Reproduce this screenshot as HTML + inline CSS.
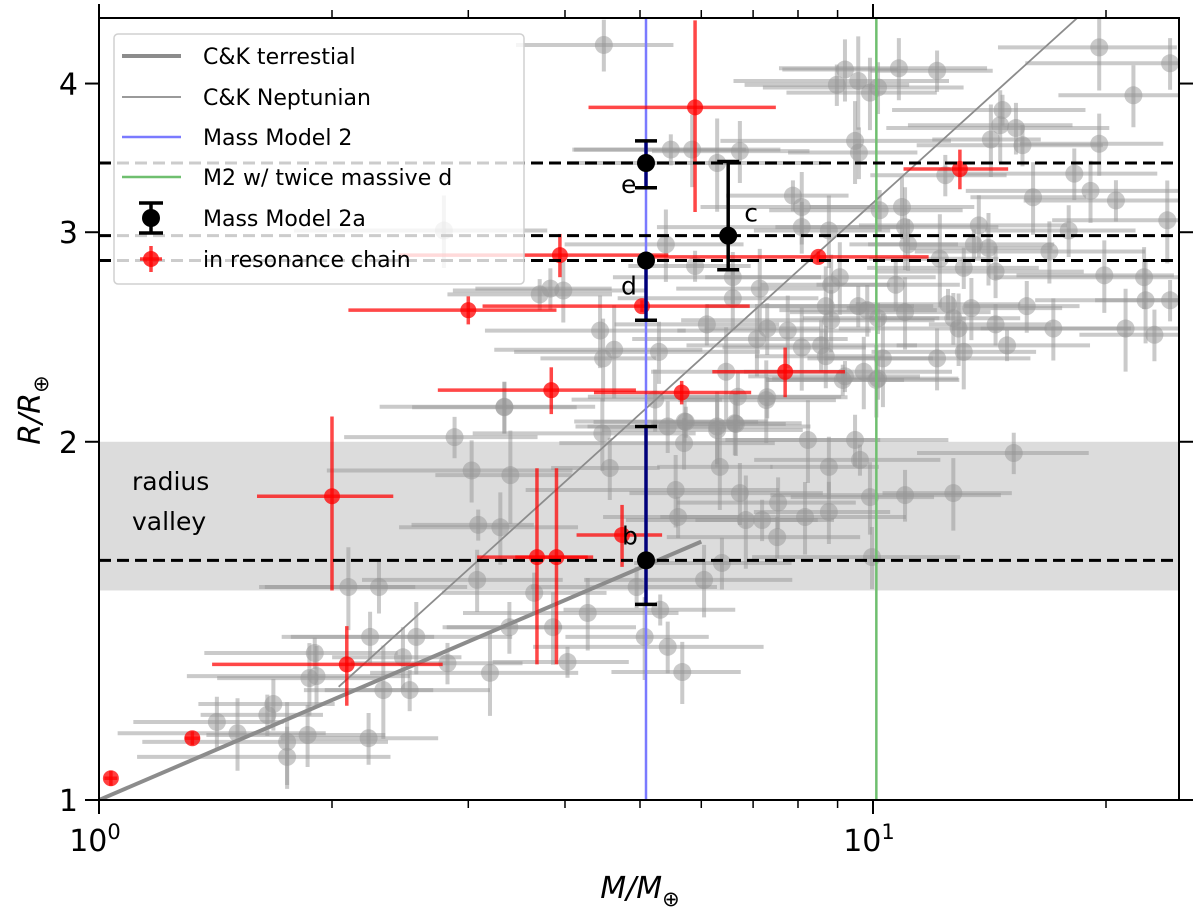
<!DOCTYPE html>
<html><head><meta charset="utf-8"><style>
html,body{margin:0;padding:0;background:#fff;}
svg{display:block;font-family:"DejaVu Sans","Liberation Sans",sans-serif;}
</style></head><body>
<svg id="chart" width="1200" height="914" viewBox="0 0 1200 914">
<defs><clipPath id="plotclip"><rect x="99" y="18" width="1080" height="782"/></clipPath></defs>
<g id="plot" clip-path="url(#plotclip)"></g>
<g id="axes"></g>
<g id="legend"></g>
</svg>
<script>
const grayMass=[1.42,1.51,1.65,1.86,1.75,1.68,1.90,1.87,1.91,2.33,2.52,2.24,2.57,2.47,2.82,3.20,2.23,1.75,4.03,3.86,3.39,4.28,3.65,3.08,2.10,2.30,3.09,3.30,3.03,3.40,2.88,3.34,4.47,4.57,4.95,5.07,5.43,5.67,5.31,6.05,6.38,5.56,5.60,6.73,6.34,5.70,5.73,6.29,6.63,6.85,7.19,7.54,8.17,8.77,7.52,8.24,9.48,8.77,9.62,9.91,11.0,12.7,15.2,9.97,7.28,6.69,9.14,10.1,9.20,9.57,8.98,10.15,9.91,10.8,12.1,19.6,24.2,21.7,14.7,14.6,15.3,14.2,15.6,19.6,9.48,9.59,5.48,5.84,6.73,6.29,12.4,18.2,16.1,19.1,20.6,24.0,17.9,13.7,7.88,8.09,8.09,8.77,10.2,10.9,11.0,11.1,13.5,14.1,16.9,12.2,13.1,14.4,19.9,22.4,24.2,22.5,15.8,13.4,12.5,11.0,12.7,12.9,14.4,17.1,21.2,23.1,14.9,13.1,12.1,10.3,10.15,10.7,9.06,8.83,9.57,8.69,9.83,8.83,10.15,7.76,7.30,7.08,6.10,6.59,7.14,6.59,5.89,5.40,5.29,6.46,5.71,5.43,6.29,6.65,7.30,8.09,8.57,8.69,9.20,9.73,4.49,2.79,3.83,3.98,4.48,3.34,3.71,4.44,5.23,4.63];
const grayRadius=[1.163,1.138,1.179,1.134,1.119,1.204,1.329,1.266,1.271,1.237,1.237,1.371,1.371,1.318,1.303,1.279,1.127,1.087,1.306,1.397,1.397,1.436,1.493,1.531,1.510,1.510,1.703,1.695,1.892,1.875,2.018,2.138,2.033,1.901,1.510,1.371,1.345,1.281,1.445,1.531,1.582,1.822,1.729,1.811,1.905,1.995,2.078,2.046,2.073,1.719,1.719,1.778,1.729,1.746,1.663,2.007,2.007,1.905,1.931,1.797,1.804,1.811,1.957,1.600,2.168,2.182,2.254,2.254,4.11,4.02,3.99,3.97,3.93,4.12,4.10,4.29,4.16,3.91,3.80,3.69,3.67,3.59,3.55,3.56,3.58,3.50,3.52,3.52,3.51,3.43,3.35,3.36,3.21,3.25,3.19,3.07,3.01,3.04,3.22,3.15,3.03,3.01,3.13,3.15,3.03,2.93,2.93,2.91,2.89,2.85,2.80,2.78,2.76,2.75,2.63,2.63,2.60,2.59,2.61,2.57,2.54,2.49,2.51,2.49,2.49,2.46,2.41,2.38,2.35,2.35,2.26,2.71,2.75,2.71,2.60,2.60,2.58,2.53,2.54,2.48,2.49,2.44,2.51,2.64,2.69,2.75,2.81,2.93,2.38,2.29,2.08,2.06,2.06,2.07,2.18,2.40,2.41,2.36,2.27,2.29,4.31,3.01,2.69,2.68,2.35,2.14,2.66,2.48,2.17,2.39];
const grayMassErrFrac=[0.22,0.30,0.18,0.26,0.35,0.20,0.28,0.24,0.32,0.16,0.27,0.21,0.33,0.19,0.25,0.30,0.23,0.36,0.20,0.28,0.17,0.31,0.24,0.29];
const grayRadiusErrFrac=[0.05,0.07,0.04,0.06,0.08,0.05,0.03,0.07,0.06,0.09,0.04,0.05,0.07,0.06,0.04,0.08,0.05,0.06,0.03,0.07];

const redMass=[1.036,1.32,2.09,2.0,3.68,3.9,4.74,3.84,5.66,7.7,3.0,3.94,5.03,8.5,5.89,12.95];
const redRadius=[1.043,1.127,1.30,1.80,1.60,1.60,1.67,2.21,2.20,2.29,2.58,2.87,2.60,2.86,3.82,3.39];
const redMassErr=[0.02,0.03,0.69,0.40,0.60,0.45,0.60,1.10,1.30,1.50,0.90,1.50,1.90,3.30,1.60,2.0];
const redRadiusErr=[0.015,0.015,0.10,0.30,0.30,0.30,0.10,0.10,0.05,0.11,0.07,0.12,0.03,0.03,0.70,0.13];

const blackNames=["b","d","c","e"];
const blackMass=[5.09,5.09,6.5,5.09];
const blackRadius=[1.59,2.84,2.98,3.43];
const blackErrLo=[0.13,0.31,0.19,0.16];
const blackErrHi=[0.47,0.0,0.46,0.15];

const ckTerrMass=[1.0,6.0];
const ckNeptMass=[2.04,30];
const mm2Mass=5.09;
const m2TwiceMass=10.1;
const valleyRadius=[1.5,2.0];
const xMajorTicks=[1,10];
const xMinorTicks=[2,3,4,5,6,7,8,9,20];
const yTicks=[1,2,3,4];

const NS="http://www.w3.org/2000/svg";
const X=m=>99+774*Math.log10(m);
const Y=r=>800-1190*Math.log10(r);
function mk(tag,attrs,parent){const e=document.createElementNS(NS,tag);for(const k in attrs)e.setAttribute(k,attrs[k]);parent.appendChild(e);return e;}
const plot=document.getElementById('plot'),axes=document.getElementById('axes'),legend=document.getElementById('legend');

// radius valley
let band=mk('rect',{x:99,y:Y(valleyRadius[1]),width:1080,height:Y(valleyRadius[0])-Y(valleyRadius[1]),fill:'#dcdcdc'},plot);



// gray points
grayMass.forEach((m,i)=>{
  const r=grayRadius[i],fm=grayMassErrFrac[i%grayMassErrFrac.length],fr=grayRadiusErrFrac[i%grayRadiusErrFrac.length];
  const g=mk('g',{},plot);
  
  
  mk('line',{x1:X(m*(1-fm)),x2:X(m*(1+fm)),y1:Y(r),y2:Y(r),stroke:'rgba(150,150,150,0.5)','stroke-width':4},g);
  mk('line',{x1:X(m),x2:X(m),y1:Y(r*(1-fr)),y2:Y(r*(1+fr)),stroke:'rgba(150,150,150,0.5)','stroke-width':4},g);
  mk('circle',{cx:X(m),cy:Y(r),r:9,fill:'rgba(150,150,150,0.5)'},g);
});

// model lines
let lt=mk('line',{x1:X(ckTerrMass[0]),y1:Y(Math.pow(ckTerrMass[0],0.279)),x2:X(ckTerrMass[1]),y2:Y(Math.pow(ckTerrMass[1],0.279)),stroke:'#8c8c8c','stroke-width':4},plot);


let ln=mk('line',{x1:X(ckNeptMass[0]),y1:Y(0.818*Math.pow(ckNeptMass[0],0.589)),x2:X(ckNeptMass[1]),y2:Y(0.818*Math.pow(ckNeptMass[1],0.589)),stroke:'#8c8c8c','stroke-width':1.8},plot);



// vertical model lines
let vb=mk('line',{x1:X(mm2Mass),x2:X(mm2Mass),y1:18,y2:800,stroke:'#7a7aff','stroke-width':2.5},plot);


let vg=mk('line',{x1:X(m2TwiceMass),x2:X(m2TwiceMass),y1:18,y2:800,stroke:'#6fbf6f','stroke-width':2.5},plot);



// red points
redMass.forEach((m,i)=>{
  const r=redRadius[i],em=redMassErr[i],er=redRadiusErr[i];
  const g=mk('g',{},plot);
  
  
  mk('line',{x1:X(m-em),x2:X(m+em),y1:Y(r),y2:Y(r),stroke:'rgba(255,0,0,0.72)','stroke-width':3.5},g);
  mk('line',{x1:X(m),x2:X(m),y1:Y(r-er),y2:Y(r+er),stroke:'rgba(255,0,0,0.72)','stroke-width':3.5},g);
  mk('circle',{cx:X(m),cy:Y(r),r:8,fill:'rgba(255,0,0,0.75)'},g);
});

// dashed radius lines
blackRadius.forEach((r,i)=>{
  let d=mk('line',{x1:99,x2:1179,y1:Y(r),y2:Y(r),stroke:'#000','stroke-width':3,'stroke-dasharray':'12 6'},plot);
  
  
});

// black points
blackMass.forEach((m,i)=>{
  const r=blackRadius[i];
  const g=mk('g',{},plot);
  
  
  const col=(m===mm2Mass)?'#00007a':'#000';
  mk('line',{x1:X(m),x2:X(m),y1:Y(r-blackErrLo[i]),y2:Y(r+blackErrHi[i]),stroke:col,'stroke-width':3.5},g);
  [r-blackErrLo[i],r+blackErrHi[i]].forEach(v=>{if(v!==r)mk('line',{x1:X(m)-11,x2:X(m)+11,y1:Y(v),y2:Y(v),stroke:'#000','stroke-width':3.5},g);});
  mk('circle',{cx:X(m),cy:Y(r),r:9,fill:'#000'},g);
});
const labelOff={b:[-24,-24],d:[-25,26],c:[16,-22],e:[-25,22]};
blackNames.forEach((n,i)=>{
  let t=mk('text',{x:X(blackMass[i])+labelOff[n][0],y:Y(blackRadius[i])+labelOff[n][1]+8,'font-size':25,fill:'#000'},plot);
  t.textContent=n;
  
  
});
let rv=mk('text',{x:132,y:490,'font-size':25,fill:'#000'},plot);rv.textContent='radius';


let rv2=mk('text',{x:132,y:530,'font-size':25,fill:'#000'},plot);rv2.textContent='valley';



// axes frame
let fr=mk('rect',{x:99,y:18,width:1080,height:782,fill:'none',stroke:'#000','stroke-width':2},axes);


xMajorTicks.forEach(v=>{
  mk('line',{x1:X(v),x2:X(v),y1:800,y2:814,stroke:'#000','stroke-width':2},axes);
  mk('line',{x1:X(v),x2:X(v),y1:18,y2:4,stroke:'#000','stroke-width':2},axes);
  let t=mk('text',{x:X(v)-4,y:851,'font-size':30,'text-anchor':'middle',fill:'#000'},axes);
  t.textContent='10';
  const s=mk('tspan',{dy:-12,'font-size':21},t);s.textContent=(v===1?'0':'1');
  
  
});
xMinorTicks.forEach(v=>{
  mk('line',{x1:X(v),x2:X(v),y1:800,y2:808,stroke:'#000','stroke-width':1.5},axes);
  mk('line',{x1:X(v),x2:X(v),y1:18,y2:10,stroke:'#000','stroke-width':1.5},axes);
});
yTicks.forEach(v=>{
  mk('line',{x1:85,x2:99,y1:Y(v),y2:Y(v),stroke:'#000','stroke-width':2},axes);
  mk('line',{x1:1179,x2:1193,y1:Y(v),y2:Y(v),stroke:'#000','stroke-width':2},axes);
  let t=mk('text',{x:78,y:Y(v)+11,'font-size':30,'text-anchor':'end',fill:'#000'},axes);
  t.textContent=String(v);
  
  
});
let xt=mk('text',{x:640,y:898,'font-size':30,'text-anchor':'middle','font-style':'italic',fill:'#000'},axes);
xt.textContent='M/M';
const xs=mk('tspan',{dy:8,'font-size':21,'font-style':'normal'},xt);xs.textContent='⊕';


let yt=mk('text',{x:0,y:0,'font-size':30,'text-anchor':'middle','font-style':'italic',fill:'#000',transform:'translate(40,410) rotate(-90)'},axes);
yt.textContent='R/R';
const ys=mk('tspan',{dy:8,'font-size':21,'font-style':'normal'},yt);ys.textContent='⊕';



// legend
const lbox=mk('rect',{x:114,y:34,width:410,height:250,rx:4,fill:'rgba(255,255,255,0.8)',stroke:'#d0d0d0','stroke-width':1.5},legend);


const legendLabels=["C&K terrestial","C&K Neptunian","Mass Model 2","M2 w/ twice massive d","Mass Model 2a","in resonance chain"];
const legendRowY=[56,97,137,177,218,259];
legendLabels.forEach((lab,i)=>{
  const y=legendRowY[i];
  const g=mk('g',{},legend);
  
  
  if(i===0) mk('line',{x1:122,x2:181,y1:y,y2:y,stroke:'#8c8c8c','stroke-width':4},g);
  if(i===1) mk('line',{x1:122,x2:181,y1:y,y2:y,stroke:'#8c8c8c','stroke-width':1.8},g);
  if(i===2) mk('line',{x1:122,x2:181,y1:y,y2:y,stroke:'#7a7aff','stroke-width':2.5},g);
  if(i===3) mk('line',{x1:122,x2:181,y1:y,y2:y,stroke:'#6fbf6f','stroke-width':2.5},g);
  if(i===4){mk('line',{x1:151,x2:151,y1:y-15,y2:y+15,stroke:'#000','stroke-width':3.5},g);
    mk('line',{x1:139,x2:163,y1:y-15,y2:y-15,stroke:'#000','stroke-width':3.5},g);
    mk('line',{x1:139,x2:163,y1:y+15,y2:y+15,stroke:'#000','stroke-width':3.5},g);
    mk('circle',{cx:151,cy:y,r:9,fill:'#000'},g);}
  if(i===5){mk('line',{x1:140,x2:162,y1:y,y2:y,stroke:'rgba(255,0,0,0.75)','stroke-width':3.5},g);
    mk('line',{x1:151,x2:151,y1:y-13,y2:y+13,stroke:'rgba(255,0,0,0.75)','stroke-width':3.5},g);
    mk('circle',{cx:151,cy:y,r:8,fill:'rgba(255,0,0,0.8)'},g);}
  const t=mk('text',{x:203,y:y+8,'font-size':22,fill:'#000'},g);
  t.textContent=lab;
});
</script>
</body></html>
